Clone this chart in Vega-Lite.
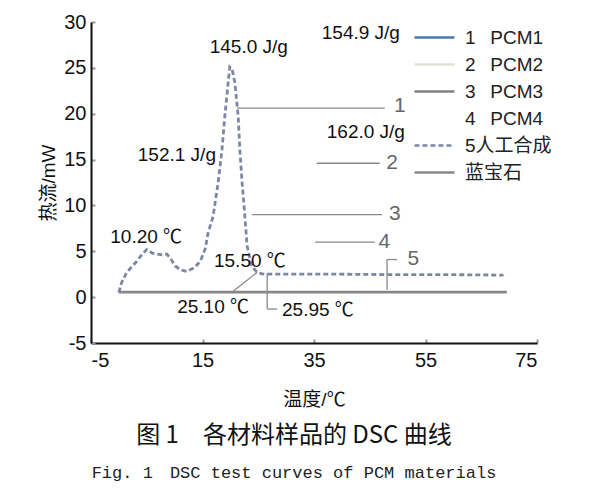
{
  "$schema": "https://vega.github.io/schema/vega-lite/v6.json",
  "width": 446,
  "height": 321,
  "autosize": {"type": "none"},
  "padding": {"left": 91, "top": 22, "right": 63, "bottom": 156},
  "background": "white",
  "config": {
    "view": {"stroke": null},
    "font": "Liberation Sans",
    "axis": {
      "grid": false,
      "domainColor": "#111",
      "domainWidth": 2,
      "ticks": true,
      "tickSize": -4,
      "tickColor": "#999",
      "tickWidth": 2,
      "labelFont": "Liberation Sans",
      "labelFontSize": 20,
      "labelColor": "#111",
      "labelExpr": "replace(datum.label, '−', '-')",
      "titleFont": "Liberation Sans, Noto Sans CJK SC",
      "titleFontSize": 19,
      "titleFontWeight": "normal",
      "titleColor": "#111"
    },
    "legend": {
      "orient": "none",
      "legendX": 332,
      "legendY": 4,
      "symbolType": "M-2,0H2",
      "symbolSize": 400,
      "symbolStrokeWidth": 2.5,
      "labelFont": "Liberation Sans, Noto Sans CJK SC",
      "labelFontSize": 19,
      "labelColor": "#222",
      "labelOffset": 19,
      "rowPadding": 5
    }
  },
  "title": {
    "text": "图 1　各材料样品的 DSC 曲线",
    "subtitle": "Fig. 1　DSC test curves of PCM materials",
    "orient": "bottom",
    "anchor": "middle",
    "font": "Noto Sans CJK SC",
    "fontSize": 24,
    "fontWeight": "normal",
    "color": "#111",
    "subtitleFont": "Liberation Mono",
    "subtitleFontSize": 17,
    "subtitleColor": "#222",
    "subtitlePadding": 17,
    "offset": 15,
    "dx": -20
  },
  "datasets": {
    "curves": [
      {"s": "5人工合成", "x": 0, "y": 0.5},
      {"s": "5人工合成", "x": 0.5, "y": 1.6},
      {"s": "5人工合成", "x": 1.4, "y": 2.7},
      {"s": "5人工合成", "x": 3.2, "y": 3.9},
      {"s": "5人工合成", "x": 4.2, "y": 4.7},
      {"s": "5人工合成", "x": 5.0, "y": 5.2},
      {"s": "5人工合成", "x": 6.0, "y": 4.8},
      {"s": "5人工合成", "x": 6.8, "y": 4.7},
      {"s": "5人工合成", "x": 7.8, "y": 4.6},
      {"s": "5人工合成", "x": 8.6, "y": 4.7},
      {"s": "5人工合成", "x": 9.3, "y": 4.2},
      {"s": "5人工合成", "x": 10.1, "y": 3.4},
      {"s": "5人工合成", "x": 11.0, "y": 3.0},
      {"s": "5人工合成", "x": 12.2, "y": 2.8},
      {"s": "5人工合成", "x": 13.5, "y": 3.2},
      {"s": "5人工合成", "x": 14.6, "y": 3.9},
      {"s": "5人工合成", "x": 15.5, "y": 5.3},
      {"s": "5人工合成", "x": 16.0, "y": 7.0},
      {"s": "5人工合成", "x": 16.9, "y": 8.8},
      {"s": "5人工合成", "x": 17.8, "y": 12.5},
      {"s": "5人工合成", "x": 18.5, "y": 16.1},
      {"s": "5人工合成", "x": 19.0, "y": 19.7},
      {"s": "5人工合成", "x": 19.6, "y": 23.4},
      {"s": "5人工合成", "x": 19.9, "y": 25.1},
      {"s": "5人工合成", "x": 20.3, "y": 24.9},
      {"s": "5人工合成", "x": 20.8, "y": 23.4},
      {"s": "5人工合成", "x": 21.4, "y": 19.7},
      {"s": "5人工合成", "x": 21.7, "y": 16.1},
      {"s": "5人工合成", "x": 22.1, "y": 12.5},
      {"s": "5人工合成", "x": 22.6, "y": 8.8},
      {"s": "5人工合成", "x": 23.0, "y": 5.6},
      {"s": "5人工合成", "x": 23.8, "y": 3.4},
      {"s": "5人工合成", "x": 24.8, "y": 2.7},
      {"s": "5人工合成", "x": 25.9, "y": 2.5},
      {"s": "5人工合成", "x": 30, "y": 2.5},
      {"s": "5人工合成", "x": 40, "y": 2.5},
      {"s": "5人工合成", "x": 50, "y": 2.45},
      {"s": "5人工合成", "x": 60, "y": 2.45},
      {"s": "5人工合成", "x": 69, "y": 2.4},
      {"s": "蓝宝石", "x": 0, "y": 0.55},
      {"s": "蓝宝石", "x": 69.6, "y": 0.55}
    ],
    "leaders": [
      {"x": 21.2, "y": 20.6, "x2": 47.7, "y2": 20.6},
      {"x": 35.5, "y": 14.6, "x2": 46.8, "y2": 14.6},
      {"x": 23.9, "y": 9.0, "x2": 47.2, "y2": 9.0},
      {"x": 35.2, "y": 6.0, "x2": 45.9, "y2": 6.0},
      {"x": 48.1, "y": 0.8, "x2": 48.1, "y2": 4.1},
      {"x": 48.1, "y": 4.1, "x2": 49.9, "y2": 4.1},
      {"x": 26.6, "y": 2.6, "x2": 26.6, "y2": -1.3},
      {"x": 26.6, "y": -1.3, "x2": 28.4, "y2": -1.3},
      {"x": 20.5, "y": 0.65, "x2": 24.8, "y2": 2.7}
    ],
    "notes": [
      {"t": "145.0 J/g", "x": 23.3, "y": 27.3},
      {"t": "154.9 J/g", "x": 43.4, "y": 28.8},
      {"t": "152.1 J/g", "x": 10.4, "y": 15.5},
      {"t": "162.0 J/g", "x": 44.3, "y": 18.0},
      {"t": "10.20 ℃", "x": 4.9, "y": 6.6},
      {"t": "15.50 ℃", "x": 23.5, "y": 3.9},
      {"t": "25.10 ℃", "x": 16.9, "y": -1.1},
      {"t": "25.95 ℃", "x": 35.7, "y": -1.4}
    ],
    "nums": [
      {"t": "1", "x": 50.4, "y": 20.8},
      {"t": "2", "x": 49.0, "y": 14.6},
      {"t": "3", "x": 49.5, "y": 9.1},
      {"t": "4", "x": 47.6, "y": 6.0},
      {"t": "5", "x": 52.8, "y": 4.2}
    ]
  },
  "layer": [
    {
      "data": {"name": "curves"},
      "mark": {"type": "line", "strokeWidth": 2.8},
      "encoding": {
        "x": {
          "field": "x", "type": "quantitative",
          "scale": {"domain": [-5, 75], "nice": false, "zero": false},
          "axis": {"values": [-5, 15, 35, 55, 75], "title": "温度/℃", "titlePadding": 20, "labelPadding": 11}
        },
        "y": {
          "field": "y", "type": "quantitative",
          "scale": {"domain": [-5, 30], "nice": false, "zero": false},
          "axis": {"values": [-5, 0, 5, 10, 15, 20, 25, 30], "title": "热流/mW", "titlePadding": 5, "labelPadding": 9}
        },
        "color": {
          "field": "s", "type": "nominal",
          "scale": {
            "domain": ["1  PCM1", "2  PCM2", "3  PCM3", "4  PCM4", "5人工合成", "蓝宝石"],
            "range": ["#4a7ab5", "#e2e2d2", "#808080", "#ffffff", "#7a88a3", "#888888"]
          },
          "legend": {"title": null, "labelExpr": "replace(datum.label, '  ', '\u2002 ')"}
        },
        "strokeDash": {
          "field": "s", "type": "nominal",
          "scale": {
            "domain": ["1  PCM1", "2  PCM2", "3  PCM3", "4  PCM4", "5人工合成", "蓝宝石"],
            "range": [[1, 0], [1, 0], [1, 0], [1, 0], [5, 3], [1, 0]]
          },
          "legend": {"title": null, "labelExpr": "replace(datum.label, '  ', '\u2002 ')"}
        }
      }
    },
    {
      "data": {"name": "leaders"},
      "mark": {"type": "rule", "color": "#8a8a8a", "strokeWidth": 1.3},
      "encoding": {
        "x": {"field": "x", "type": "quantitative"},
        "y": {"field": "y", "type": "quantitative"},
        "x2": {"field": "x2"},
        "y2": {"field": "y2"}
      }
    },
    {
      "data": {"name": "notes"},
      "mark": {"type": "text", "fontSize": 19, "color": "#111", "font": "Liberation Sans, Noto Sans CJK SC"},
      "encoding": {
        "x": {"field": "x", "type": "quantitative"},
        "y": {"field": "y", "type": "quantitative"},
        "text": {"field": "t"}
      }
    },
    {
      "data": {"name": "nums"},
      "mark": {"type": "text", "fontSize": 21, "color": "#666"},
      "encoding": {
        "x": {"field": "x", "type": "quantitative"},
        "y": {"field": "y", "type": "quantitative"},
        "text": {"field": "t"}
      }
    }
  ]
}
